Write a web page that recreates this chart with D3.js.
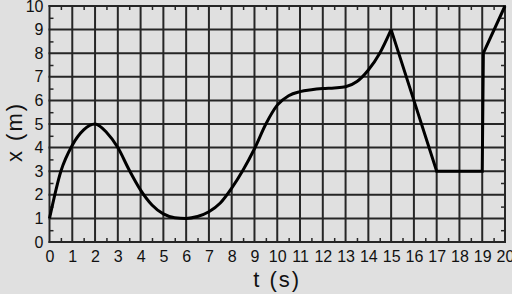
<!DOCTYPE html>
<html>
<head>
<meta charset="utf-8">
<script src="https://cdn.jsdelivr.net/npm/d3@7"></script>
<style>
  html, body { margin: 0; padding: 0; background: #e0e0e0; }
  svg { display: block; }
  .lbl text { font-family: "Liberation Sans", Arial, sans-serif; font-size: 16px; fill: #111; }
  .title { font-family: "Liberation Sans", Arial, sans-serif; font-size: 22px; fill: #111; letter-spacing: 2px; }
</style>
</head>
<body>
<div id="chart"></div>
<script>
// position x (m), smooth part t = 0..15
var smoothT = [0, 0.5, 1, 1.5, 2, 2.5, 3, 3.5, 4, 4.5, 5, 5.5, 6, 6.5, 7, 7.5, 8, 8.5, 9, 9.5, 10, 10.5, 11, 11.5, 12, 12.5, 13, 13.5, 14, 14.5, 15];
var smoothX = [1, 3.0, 4.1, 4.75, 5, 4.65, 4.0, 3.05, 2.2, 1.57, 1.19, 1.03, 1, 1.08, 1.28, 1.65, 2.28, 3.05, 3.95, 5.0, 5.8, 6.2, 6.37, 6.45, 6.5, 6.53, 6.58, 6.8, 7.29, 8.0, 9];
// straight segments after t = 15
var lineT = [15, 17, 19, 19.05, 20];
var lineX = [9, 3, 3, 8, 10];

var xTicks = d3.range(0, 21);
var yTicks = d3.range(0, 11);

var W = 512, H = 294;
var plotLeft = 49.5, plotRight = 505, plotTop = 6, plotBottom = 242;

var svg = d3.select("#chart").append("svg")
    .attr("width", W)
    .attr("height", H);

var xScale = d3.scaleLinear().domain([0, 20]).range([plotLeft, plotRight]);
var yScale = d3.scaleLinear().domain([0, 10]).range([plotBottom, plotTop]);

var gridColor = "#262626";

// grid lines
svg.append("g")
    .selectAll("line")
    .data(xTicks)
    .join("line")
    .attr("x1", d => xScale(d)).attr("x2", d => xScale(d))
    .attr("y1", yScale(0) + 1).attr("y2", yScale(10) - 1)
    .attr("stroke", gridColor).attr("stroke-width", 2);

svg.append("g")
    .selectAll("line")
    .data(yTicks)
    .join("line")
    .attr("x1", xScale(0) - 1).attr("x2", xScale(20) + 1)
    .attr("y1", d => yScale(d)).attr("y2", d => yScale(d))
    .attr("stroke", gridColor).attr("stroke-width", 2);

// half-unit minor ticks, pointing inside on all four sides
var halfX = d3.range(0.5, 20, 1);
var halfY = d3.range(0.5, 10, 1);
var tickLen = 4;

function minor(axis, transform, vals) {
    var g = svg.append("g")
        .attr("transform", transform)
        .call(axis.tickValues(vals).tickSize(tickLen).tickFormat(""));
    g.select(".domain").remove();
    g.selectAll("line").attr("stroke", gridColor).attr("stroke-width", 1.5);
}
minor(d3.axisTop(xScale), "translate(0," + yScale(0) + ")", halfX);
minor(d3.axisBottom(xScale), "translate(0," + yScale(10) + ")", halfX);
minor(d3.axisRight(yScale), "translate(" + xScale(0) + ",0)", halfY);
minor(d3.axisLeft(yScale), "translate(" + xScale(20) + ",0)", halfY);

// tick labels
var xAxis = svg.append("g")
    .attr("class", "lbl")
    .attr("transform", "translate(0," + yScale(0) + ")")
    .call(d3.axisBottom(xScale).tickValues(xTicks).tickSize(0).tickPadding(9).tickFormat(d3.format("d")));
xAxis.select(".domain").remove();

var yAxis = svg.append("g")
    .attr("class", "lbl")
    .attr("transform", "translate(" + xScale(0) + ",0)")
    .call(d3.axisLeft(yScale).tickValues(yTicks).tickSize(0).tickPadding(6).tickFormat(d3.format("d")));
yAxis.select(".domain").remove();
svg.selectAll(".lbl").attr("font-family", null).attr("font-size", null);

// curve
var smoothLine = d3.line()
    .x((d, i) => xScale(smoothT[i]))
    .y(d => yScale(d))
    .curve(d3.curveMonotoneX);

svg.append("path")
    .datum(smoothX)
    .attr("d", smoothLine)
    .attr("fill", "none")
    .attr("stroke", "#000")
    .attr("stroke-width", 3)
    .attr("stroke-linejoin", "round");

var straightLine = d3.line()
    .x((d, i) => xScale(lineT[i]))
    .y(d => yScale(d));

svg.append("path")
    .datum(lineX)
    .attr("d", straightLine)
    .attr("fill", "none")
    .attr("stroke", "#000")
    .attr("stroke-width", 3)
    .attr("stroke-linejoin", "miter");

// axis titles
svg.append("text")
    .attr("class", "title")
    .attr("text-anchor", "middle")
    .attr("transform", "translate(" + ((plotLeft + plotRight) / 2) + ",287)")
    .text("t (s)");

svg.append("text")
    .attr("class", "title")
    .attr("text-anchor", "middle")
    .attr("transform", "translate(22,132) rotate(-90)")
    .text("x (m)");
</script>
</body>
</html>
